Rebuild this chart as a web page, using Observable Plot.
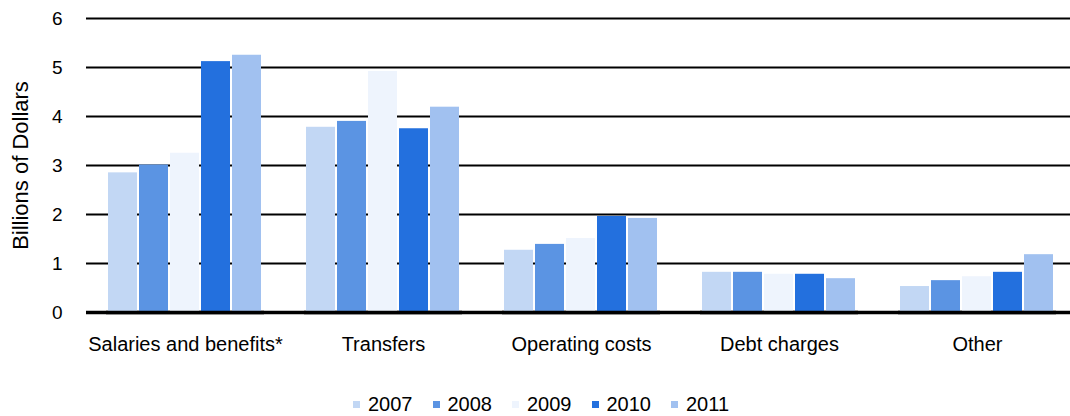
<!DOCTYPE html>
<html>
<head>
<meta charset="utf-8">
<script src="https://cdn.jsdelivr.net/npm/d3@7"></script>
<script src="https://cdn.jsdelivr.net/npm/@observablehq/plot@0.6"></script>
<style>
  html, body { margin: 0; padding: 0; background: #fff; }
  body { width: 1070px; height: 416px; overflow: hidden; font-family: "Liberation Sans", Arial, sans-serif; }
  #chart { position: relative; width: 1070px; height: 380px; }
  #chart svg { display: block; position: absolute; left: 0; top: 0; }
  #legend { position: relative; height: 36px; box-sizing: border-box; padding-top: 12px; padding-left: 353px; display: flex; align-items: center; line-height: 20px; font-size: 20px; color: #000; }
  .item { display: flex; align-items: center; margin-right: 20px; }
  .sw { width: 7px; height: 7px; margin-right: 8px; }
</style>
</head>
<body>
<div id="chart"></div>
<div id="legend"></div>
<script>
const categories = ["Salaries and benefits*", "Transfers", "Operating costs", "Debt charges", "Other"];
const years = ["2007", "2008", "2009", "2010", "2011"];
const colors = ["#c2d7f4", "#5b94e3", "#eef4fd", "#2370de", "#a1c1f0"];
const yTicks = [0, 1, 2, 3, 4, 5, 6];
const v2007 = [2.85, 3.78, 1.27, 0.82, 0.53];
const v2008 = [3.01, 3.90, 1.39, 0.82, 0.65];
const v2009 = [3.25, 4.92, 1.51, 0.78, 0.73];
const v2010 = [5.12, 3.75, 1.96, 0.78, 0.82];
const v2011 = [5.25, 4.19, 1.92, 0.69, 1.18];

const series = [v2007, v2008, v2009, v2010, v2011];
const data = [];
categories.forEach((c, i) => {
  years.forEach((y, j) => data.push({category: c, year: y, value: series[j][i]}));
});

const common = {
  width: 1070,
  height: 380,
  marginLeft: 86,
  marginRight: -6,
  marginTop: 18,
  marginBottom: 68,
  style: {fontFamily: "'Liberation Sans', Arial, sans-serif", color: "#000", background: "transparent", overflow: "visible"},
  y: {domain: [0, 6], label: null}
};

// background layer: continuous gridlines across the whole plot
const grid = Plot.plot({
  ...common,
  style: {...common.style, background: "#fff"},
  marks: [
    Plot.ruleY(yTicks.filter(d => d > 0), {stroke: "#000", strokeWidth: 2}),
    Plot.ruleY([0], {stroke: "#000", strokeWidth: 3.5}),
    Plot.axisY(yTicks, {tickSize: 0, tickPadding: 24, fontSize: 19, label: "Billions of Dollars", labelAnchor: "center", labelArrow: "none", labelOffset: 74})
  ]
});

// foreground layer: grouped bars
const bars = Plot.plot({
  ...common,
  fx: {domain: categories, paddingInner: 0.2, paddingOuter: 0.1, label: null},
  x: {domain: years, padding: 0.06, axis: null},
  y: {domain: [0, 6], label: null, axis: null},
  color: {domain: years, range: colors},
  marks: [
    Plot.barY(data, {fx: "category", x: "year", y: "value", fill: "year"}),
    Plot.ruleY([0], {stroke: "#000", strokeWidth: 3.5}),
    Plot.axisFx({anchor: "bottom", tickSize: 0, tickPadding: 24, fontSize: 20, label: null})
  ]
});

const host = document.getElementById("chart");
host.appendChild(grid);
host.appendChild(bars);

grid.querySelectorAll("text").forEach(t => {
  if (t.textContent.trim().indexOf("Billions") >= 0) {
    t.setAttribute("font-size", "22");
    t.style.fontSize = "22px";
  } else {
    t.style.fontSize = "19px";
  }
});
bars.querySelectorAll("text").forEach(t => { t.style.fontSize = "20px"; });

const legend = document.getElementById("legend");
years.forEach((y, j) => {
  const it = document.createElement("div");
  it.className = "item";
  const sw = document.createElement("span");
  sw.className = "sw";
  sw.style.background = colors[j];
  const tx = document.createElement("span");
  tx.textContent = y;
  it.appendChild(sw);
  it.appendChild(tx);
  legend.appendChild(it);
});
</script>
</body>
</html>
